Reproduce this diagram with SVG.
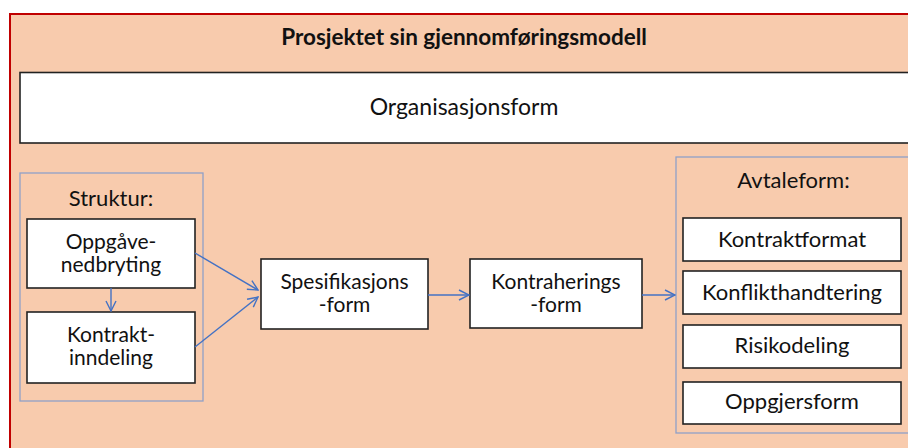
<svg xmlns="http://www.w3.org/2000/svg" width="908" height="448" viewBox="0 0 908 448">
<defs>
<marker id="arr" viewBox="0 0 12 12" refX="11" refY="6" markerWidth="12" markerHeight="12" markerUnits="userSpaceOnUse" orient="auto">
<path d="M1,1 L11,6 L1,11" fill="none" stroke="#4472C4" stroke-width="1.4"/>
</marker>
<style>
.t{font-family:Lato,"Open Sans","Liberation Sans",sans-serif;font-size:22px;fill:#111;text-anchor:middle}
.m{font-size:21px}
.b{fill:#fff;stroke:#222;stroke-width:1.6}
.g{fill:none;stroke:#8FA0C8;stroke-width:1.3}
.c{fill:none;stroke:#4472C4;stroke-width:1.4;marker-end:url(#arr)}
</style>
</defs>
<rect x="0" y="0" width="908" height="448" fill="#fff"/>
<g id="frame">
<rect x="10" y="14" width="910" height="450" fill="#F8CBAD" stroke="#C00000" stroke-width="2"/>
<text class="t" x="464" y="45" style="font-weight:bold;font-size:22.5px">Prosjektet sin gjennomføringsmodell</text>
</g>
<g id="organisasjonsform">
<rect class="b" x="20" y="72.5" width="900" height="70.5"/>
<text class="t" x="464" y="115" style="font-size:23px">Organisasjonsform</text>
</g>
<g id="struktur">
<rect class="g" x="20" y="173" width="183" height="228"/>
<text class="t" x="111" y="206">Struktur:</text>
</g>
<g id="oppgave">
<rect class="b" x="27" y="219" width="168" height="69"/>
<text class="t m" x="111" y="249">Oppgåve-</text>
<text class="t m" x="111" y="272">nedbryting</text>
</g>
<g id="kontraktinndeling">
<rect class="b" x="27" y="312" width="168" height="71"/>
<text class="t m" x="111" y="342">Kontrakt-</text>
<text class="t m" x="111" y="365">inndeling</text>
</g>
<g id="spesifikasjonsform">
<rect class="b" x="261" y="259" width="167" height="70"/>
<text class="t m" x="344.5" y="289">Spesifikasjons</text>
<text class="t m" x="344.5" y="312">-form</text>
</g>
<g id="kontraheringsform">
<rect class="b" x="470" y="259" width="172" height="69"/>
<text class="t m" x="556" y="289">Kontraherings</text>
<text class="t m" x="556" y="312">-form</text>
</g>
<g id="avtaleform">
<rect class="g" x="676" y="157" width="250" height="276"/>
<text class="t" x="793.5" y="188">Avtaleform:</text>
</g>
<g id="kontraktformat">
<rect class="b" x="683" y="218" width="218" height="43"/>
<text class="t" x="792" y="247">Kontraktformat</text>
</g>
<g id="konflikthandtering">
<rect class="b" x="683" y="271" width="218" height="43"/>
<text class="t" x="792" y="300">Konflikthandtering</text>
</g>
<g id="risikodeling">
<rect class="b" x="683" y="325" width="218" height="43"/>
<text class="t" x="792" y="353">Risikodeling</text>
</g>
<g id="oppgjersform">
<rect class="b" x="683" y="382" width="218" height="42"/>
<text class="t" x="792" y="409">Oppgjersform</text>
</g>
<g id="connectors">
<line class="c" x1="111" y1="288" x2="111" y2="311"/>
<line class="c" x1="195" y1="253" x2="258" y2="290"/>
<line class="c" x1="195" y1="347" x2="258" y2="297"/>
<line class="c" x1="428" y1="295" x2="469" y2="295"/>
<line class="c" x1="642" y1="295" x2="675" y2="295"/>
</g>
</svg>
